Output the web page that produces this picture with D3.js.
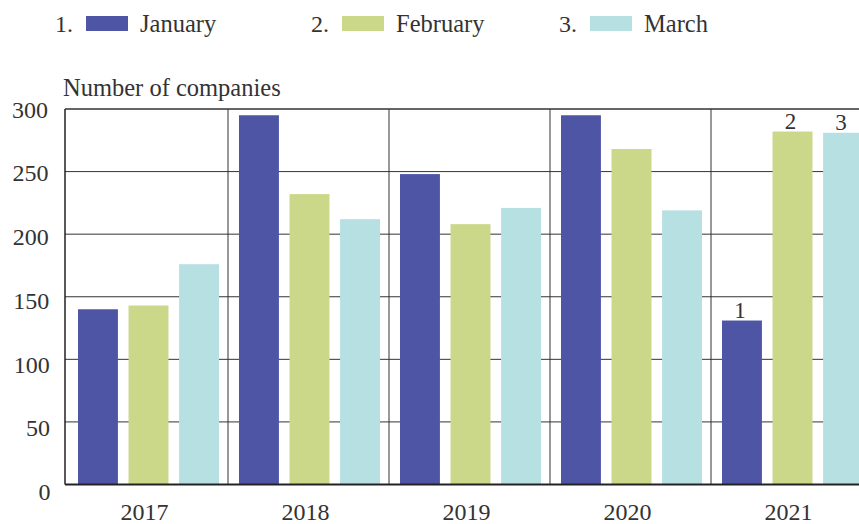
<!DOCTYPE html>
<html>
<head>
<meta charset="utf-8">
<script src="https://cdn.jsdelivr.net/npm/d3@7"></script>
<style>
  body { margin: 0; background: #fff; }
  svg { display: block; font-family: "Liberation Serif", "DejaVu Serif", serif; }
</style>
</head>
<body>
<svg id="chart" width="859" height="524"></svg>
<script>
// data
var years = ["2017", "2018", "2019", "2020", "2021"];
var months = ["January", "February", "March"];
var january = [140, 295, 248, 295, 131];
var february = [143, 232, 208, 268, 282];
var march = [176, 212, 221, 219, 281];
var yTicks = [0, 50, 100, 150, 200, 250, 300];
var colors = ["#4f55a5", "#cbd789", "#b7e0e2"];

var series = [january, february, march];
var rows = [];
years.forEach(function(y, i){
    months.forEach(function(m, j){
        rows.push({year: y, month: m, idx: j, value: series[j][i]});
    });
});

var svg = d3.select("#chart");
var textColor = "#333";

var x = d3.scaleBand().domain(years).range([67, 872]).padding(0);
var xm = d3.scaleBand().domain(months).range([11, x.bandwidth() - 9]).paddingInner(0.21).paddingOuter(0);
var y = d3.scaleLinear().domain([0, 300]).range([484.5, 109]);
// tick labels sit on a slightly wider spacing than the grid
var yLab = d3.scaleLinear().domain([0, 300]).range([500, 117.5]);

// horizontal grid
svg.append("g").selectAll("line.h")
    .data(yTicks.filter(function(t){ return t > 0; }))
    .enter().append("line")
    .attr("x1", 65).attr("x2", 872)
    .attr("y1", function(d){ return y(d); })
    .attr("y2", function(d){ return y(d); })
    .attr("stroke", "#333")
    .attr("stroke-width", function(d){ return d === 300 ? 1.5 : 1; });

// vertical separators between years
svg.append("g").selectAll("line.v")
    .data(years.slice(1))
    .enter().append("line")
    .attr("x1", function(d){ return x(d); })
    .attr("x2", function(d){ return x(d); })
    .attr("y1", y(300)).attr("y2", y(0))
    .attr("stroke", "#333").attr("stroke-width", 1);

// bars
svg.append("g").selectAll("rect")
    .data(rows)
    .enter().append("rect")
    .attr("x", function(d){ return x(d.year) + xm(d.month); })
    .attr("y", function(d){ return y(d.value); })
    .attr("width", xm.bandwidth())
    .attr("height", function(d){ return y(0) - y(d.value); })
    .attr("fill", function(d){ return colors[d.idx]; });

// numbers over the last year's bars
svg.append("g").selectAll("text")
    .data(rows.filter(function(d){ return d.year === "2021"; }))
    .enter().append("text")
    .attr("x", function(d){ return x(d.year) + xm(d.month) + xm.bandwidth() / 2 - 2; })
    .attr("y", function(d){ return y(d.value) - 3; })
    .attr("text-anchor", "middle")
    .attr("font-size", 23)
    .attr("fill", textColor)
    .text(function(d){ return d.idx + 1; });

// axes lines
svg.append("line").attr("x1", 65).attr("x2", 65).attr("y1", y(300)).attr("y2", y(0))
    .attr("stroke", "#222").attr("stroke-width", 1.5);
svg.append("line").attr("x1", 65).attr("x2", 872).attr("y1", y(0)).attr("y2", y(0))
    .attr("stroke", "#222").attr("stroke-width", 2);

// y tick labels
svg.append("g").selectAll("text")
    .data(yTicks)
    .enter().append("text")
    .attr("x", function(d){ return 50.5 - d / 120; })
    .attr("y", function(d){ return yLab(d); })
    .attr("text-anchor", "end")
    .attr("font-size", 24)
    .attr("fill", textColor)
    .text(function(d){ return d; });

// x labels
svg.append("g").selectAll("text")
    .data(years)
    .enter().append("text")
    .attr("x", function(d){ return x(d) + x.bandwidth() / 2 - 3; })
    .attr("y", 520)
    .attr("text-anchor", "middle")
    .attr("font-size", 24)
    .attr("fill", textColor)
    .text(function(d){ return d; });

// y title
svg.append("text")
    .attr("x", 63).attr("y", 96)
    .attr("font-size", 24.5)
    .attr("fill", textColor)
    .text("Number of companies");

// legend
var legendX = [55, 311, 559];
var lg = svg.append("g").selectAll("g")
    .data(months)
    .enter().append("g")
    .attr("transform", function(d, i){ return "translate(" + legendX[i] + ",0)"; });
lg.append("text")
    .attr("x", 0).attr("y", 32)
    .attr("font-size", 24)
    .attr("fill", textColor)
    .text(function(d, i){ return (i + 1) + "."; });
lg.append("rect")
    .attr("x", 31).attr("y", 16)
    .attr("width", 42).attr("height", 15)
    .attr("fill", function(d, i){ return colors[i]; });
lg.append("text")
    .attr("x", 85).attr("y", 32)
    .attr("font-size", 24.5)
    .attr("fill", textColor)
    .text(function(d){ return d; });
</script>
</body>
</html>
